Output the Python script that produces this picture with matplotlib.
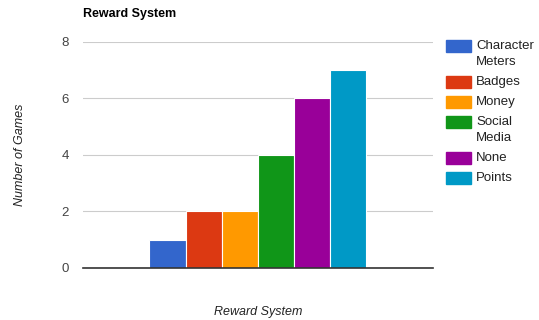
import numpy as np
import matplotlib
matplotlib.use('Agg')
import matplotlib.pyplot as plt
from matplotlib.patches import Rectangle

plt.rcParams['font.family'] = ['Liberation Sans', 'DejaVu Sans']

# 奖励系统类别与游戏数量
systems = ['Character\nMeters', 'Badges', 'Money', 'Social\nMedia', 'None', 'Points']
games = [1, 2, 2, 4, 6, 7]
colors = ['#3366cc', '#dc3912', '#ff9900', '#109618', '#990099', '#0099c6']
y_ticks = [0, 2, 4, 6, 8]

W, H = 539, 320
fig = plt.figure(figsize=(W / 100, H / 100), dpi=100)
ax = fig.add_axes([0.154, 0.1625, 0.649, 0.7065])

w = 0.1034
n = len(games)
for i, (v, c) in enumerate(zip(games, colors)):
    ax.bar((i - (n - 1) / 2) * w, v, width=w, color=c, edgecolor='white',
           linewidth=0.8, zorder=2)

ax.set_xlim(-0.5, 0.5)
ax.set_ylim(0, 8)
ax.set_yticks(y_ticks)
ax.set_xticks([])
ax.tick_params(axis='y', length=0, pad=10, labelsize=9.5, labelcolor='#444444')
ax.grid(axis='y', color='#cccccc', linewidth=0.8, zorder=0)
for s in ['top', 'right', 'left']:
    ax.spines[s].set_visible(False)
ax.spines['bottom'].set_color('#333333')
ax.spines['bottom'].set_linewidth(1.2)
ax.spines['bottom'].set_zorder(3)

ax.set_ylabel('Number of Games', fontsize=9, style='italic', color='#222222')
ax.yaxis.set_label_coords(-0.18, 0.5)
ax.set_xlabel('Reward System', fontsize=9, style='italic', color='#222222')
ax.xaxis.set_label_coords(0.5, -0.195)
ax.xaxis.label.set_va('center')
ax.yaxis.label.set_va('center')
fig.text(0.154, 0.955, 'Reward System', fontsize=9, fontweight='bold', va='center', ha='left')

# 图例：色块与首行文字对齐
y = 46
for name, c in zip(systems, colors):
    fig.add_artist(Rectangle((446 / W, 1 - (y + 6) / H), 25 / W, 12 / H,
                             transform=fig.transFigure, color=c))
    lines = name.split('\n')
    for k, line in enumerate(lines):
        fig.text(476 / W, 1 - (y + 16 * k) / H, line, fontsize=9.5,
                 color='#222222', va='center', ha='left')
    y += 16 * len(lines) + 4

fig.savefig('out.png', dpi=100)
